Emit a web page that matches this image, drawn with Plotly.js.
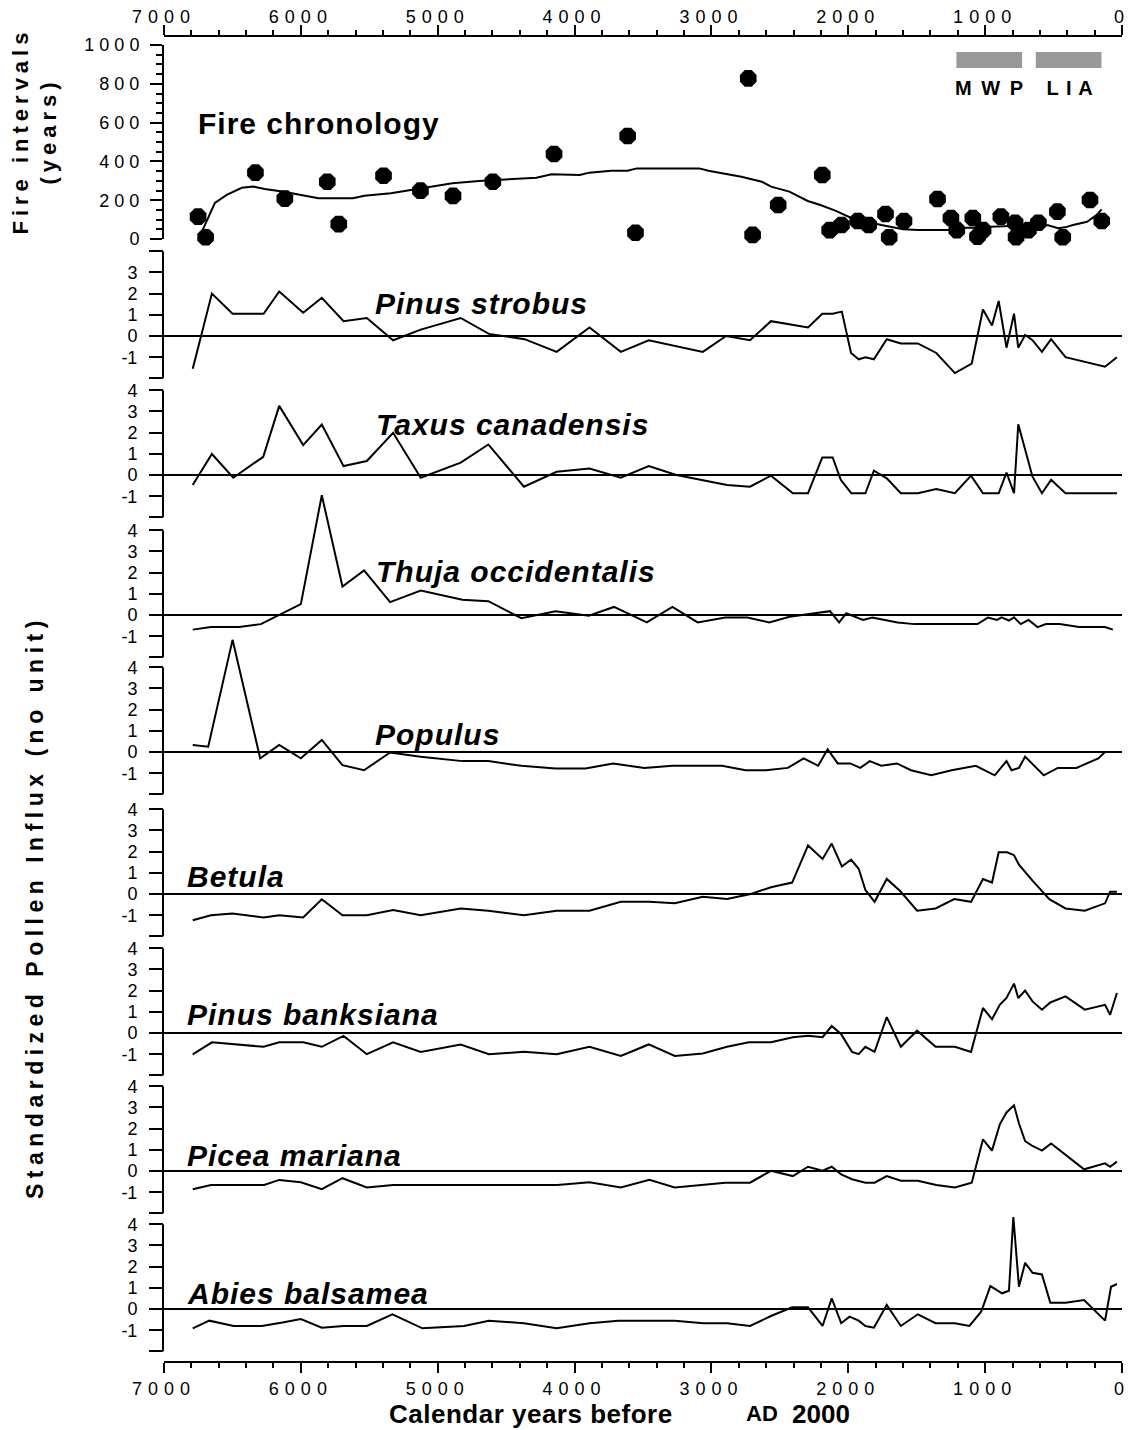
<!DOCTYPE html>
<html><head><meta charset="utf-8">
<script src="https://cdn.plot.ly/plotly-3.0.1.min.js"></script>
<style>html,body{margin:0;padding:0;background:#fff}</style>
</head><body><div id="chart" style="width:1130px;height:1430px"></div>
<script>
// ---------------- DATA ----------------
const yearTicks = [7000, 6000, 5000, 4000, 3000, 2000, 1000, 0];

const fireAge = [6751,6696,6332,6117,5807,5723,5396,5126,4888,4597,4150,3612,3555,2731,2699,2512,2190,2136,2050,1931,1851,1728,1701,1593,1348,1250,1207,1090,1056,1015,885,781,774,684,611,472,433,234,148];
const fireInterval = [115,9,342,208,295,77,326,249,222,295,438,531,32,828,21,175,330,46,72,93,72,129,9,93,206,108,46,108,12,46,115,84,10,46,84,141,9,201,93];

const fireSmoothAge = [6718,6628,6542,6431,6346,6263,6124,6011,5872,5620,5536,5343,5228,5061,4893,4698,4279,4168,3961,3893,3732,3613,3545,3088,3022,2942,2781,2631,2564,2431,2296,2204,2095,1974,1759,1599,1490,1277,1134,1073,964,650,540,467,416,358,255,185,149];
const fireSmoothInterval = [46,186,227,264,270,258,244,230,210,210,223,236,249,270,287,299,316,334,330,342,352,352,364,364,352,342,321,295,270,244,196,175,146,107,72,50,46,46,58,58,63,71,71,55,60,72,89,124,153];

const mwpPeriod = [1210, 730];
const liaPeriod = [630, 150];

const pinusStrobusAge = [6790,6650,6499,6272,6158,5983,5847,5688,5518,5326,5124,4832,4626,4365,4131,3891,3662,3458,3063,2893,2718,2565,2294,2190,2114,2047,1980,1924,1875,1813,1719,1616,1492,1357,1221,1098,1016,950,901,844,789,758,708,654,585,518,413,124,37];
const pinusStrobusValue = [-1.55,2.0,1.05,1.05,2.1,1.1,1.8,0.7,0.85,-0.2,0.3,0.85,0.1,-0.15,-0.75,0.4,-0.75,-0.2,-0.75,0,-0.2,0.7,0.4,1.05,1.05,1.15,-0.8,-1.1,-1.0,-1.1,-0.15,-0.35,-0.35,-0.8,-1.75,-1.3,1.25,0.5,1.65,-0.55,1.05,-0.55,0.05,-0.2,-0.75,-0.15,-1.0,-1.45,-1.0];

const taxusAge = [6790,6650,6494,6275,6158,5983,5847,5688,5518,5326,5124,4832,4630,4370,4131,3891,3662,3458,3256,2886,2718,2565,2405,2294,2190,2114,2055,1978,1875,1813,1719,1616,1492,1357,1221,1103,1016,901,844,789,758,654,585,518,413,37];
const taxusValue = [-0.47,0.99,-0.13,0.86,3.26,1.41,2.38,0.42,0.66,1.99,-0.13,0.58,1.44,-0.55,0.15,0.31,-0.13,0.42,0,-0.47,-0.55,-0.03,-0.86,-0.86,0.83,0.83,-0.23,-0.86,-0.86,0.2,-0.16,-0.86,-0.86,-0.66,-0.86,-0.03,-0.86,-0.86,0.11,-0.86,2.39,-0.08,-0.86,-0.23,-0.86,-0.86];

const thujaAge = [6790,6657,6450,6292,6000,5847,5696,5538,5348,5124,4820,4630,4389,4139,3896,3712,3472,3285,3100,2898,2737,2578,2429,2134,2067,2015,1892,1825,1640,1517,1056,980,913,880,826,789,740,683,617,556,456,314,124,67];
const thujaValue = [-0.69,-0.57,-0.57,-0.43,0.51,5.65,1.34,2.1,0.61,1.15,0.72,0.65,-0.15,0.18,-0.03,0.38,-0.35,0.38,-0.35,-0.12,-0.12,-0.35,-0.08,0.18,-0.35,0.08,-0.23,-0.12,-0.35,-0.43,-0.43,-0.12,-0.23,-0.11,-0.26,-0.11,-0.43,-0.23,-0.57,-0.43,-0.43,-0.57,-0.57,-0.69];

const populusAge = [6790,6677,6499,6297,6158,6000,5847,5696,5538,5348,5124,4820,4630,4389,4139,3920,3718,3490,3285,2923,2750,2602,2442,2326,2220,2151,2077,1986,1912,1843,1759,1645,1542,1394,1245,1068,930,844,807,753,708,572,469,333,173,124,37];
const populusValue = [0.33,0.25,5.29,-0.30,0.33,-0.30,0.57,-0.62,-0.86,-0.02,-0.22,-0.43,-0.43,-0.65,-0.78,-0.78,-0.54,-0.75,-0.65,-0.65,-0.86,-0.86,-0.75,-0.30,-0.65,0.13,-0.54,-0.54,-0.75,-0.43,-0.65,-0.54,-0.86,-1.1,-0.86,-0.65,-1.1,-0.43,-0.86,-0.75,-0.22,-1.1,-0.75,-0.75,-0.30,0,0];

const betulaAge = [6790,6657,6499,6272,6158,5983,5847,5696,5518,5326,5124,4832,4630,4370,4131,3891,3662,3453,3268,3063,2886,2713,2565,2410,2294,2188,2121,2047,1980,1924,1875,1808,1719,1621,1497,1362,1226,1103,1016,950,901,839,789,753,654,531,413,272,124,87,37];
const betulaValue = [-1.24,-1.0,-0.92,-1.11,-1.0,-1.11,-0.25,-1.0,-1.0,-0.76,-1.0,-0.68,-0.79,-1.0,-0.79,-0.79,-0.37,-0.37,-0.44,-0.13,-0.24,0,0.32,0.54,2.29,1.65,2.38,1.3,1.62,1.19,0.19,-0.37,0.71,0.14,-0.79,-0.68,-0.24,-0.37,0.71,0.54,1.97,1.97,1.83,1.38,0.63,-0.24,-0.68,-0.79,-0.44,0.11,0.11];

const pinusBanksianaAge = [6790,6650,6272,6158,5983,5847,5688,5518,5326,5124,4832,4626,4370,4131,3891,3662,3458,3268,3063,2886,2726,2565,2405,2294,2188,2121,2052,1973,1924,1875,1808,1719,1616,1497,1362,1221,1103,1016,950,893,844,789,758,708,654,585,524,413,272,124,87,37];
const pinusBanksianaValue = [-1.01,-0.44,-0.65,-0.44,-0.44,-0.65,-0.14,-1.0,-0.44,-0.89,-0.54,-1.0,-0.89,-1.0,-0.65,-1.08,-0.54,-1.08,-0.97,-0.65,-0.44,-0.44,-0.2,-0.13,-0.2,0.33,-0.06,-0.89,-1.0,-0.65,-0.89,0.75,-0.65,0.11,-0.65,-0.65,-0.89,1.18,0.65,1.33,1.65,2.33,1.65,2.0,1.49,1.1,1.44,1.73,1.1,1.33,0.86,1.89];

const piceaAge = [6790,6657,6268,6158,6000,5847,5696,5518,5326,4126,3891,3662,3453,3268,2898,2718,2565,2405,2294,2188,2121,2052,1973,1875,1808,1719,1616,1492,1357,1221,1098,1016,950,893,844,789,753,708,654,585,518,277,124,87,37];
const piceaValue = [-0.86,-0.66,-0.66,-0.42,-0.53,-0.86,-0.34,-0.78,-0.66,-0.66,-0.53,-0.78,-0.42,-0.78,-0.55,-0.55,0.01,-0.24,0.2,0.01,0.2,-0.16,-0.39,-0.55,-0.55,-0.24,-0.46,-0.46,-0.66,-0.78,-0.55,1.49,0.96,2.2,2.76,3.1,2.24,1.41,1.18,0.96,1.3,0.08,0.36,0.2,0.44];

const abiesAge = [6790,6669,6491,6285,6134,6000,5847,5688,5518,5331,5112,4808,4626,4370,4131,3891,3680,3268,3059,2886,2718,2565,2410,2294,2188,2121,2052,1991,1924,1875,1813,1719,1616,1492,1362,1221,1115,1029,962,876,826,794,753,708,654,585,524,413,277,124,80,37];
const abiesValue = [-0.91,-0.55,-0.8,-0.8,-0.64,-0.47,-0.88,-0.8,-0.8,-0.25,-0.91,-0.8,-0.55,-0.67,-0.91,-0.67,-0.55,-0.55,-0.67,-0.67,-0.8,-0.33,0.08,0.08,-0.8,0.5,-0.67,-0.36,-0.55,-0.8,-0.88,0.19,-0.8,-0.25,-0.67,-0.67,-0.8,-0.13,1.08,0.74,0.86,4.34,1.05,2.18,1.71,1.63,0.3,0.3,0.42,-0.55,1.05,1.18];

const speciesNames = ['Pinus strobus','Taxus canadensis','Thuja occidentalis','Populus','Betula','Pinus banksiana','Picea mariana','Abies balsamea'];
const speciesAges = [pinusStrobusAge, taxusAge, thujaAge, populusAge, betulaAge, pinusBanksianaAge, piceaAge, abiesAge];
const speciesValues = [pinusStrobusValue, taxusValue, thujaValue, populusValue, betulaValue, pinusBanksianaValue, piceaValue, abiesValue];
const pollenTickVals = [-2,-1,0,1,2,3,4];

// ---------------- LAYOUT ----------------
const W = 1130, H = 1430;
const px = v => v / W;
const py = v => 1 - v / H;
const X0 = 164, X1 = 1122;
const FONT = 'Liberation Sans, Arial, Helvetica, sans-serif';
const U = 21.2;
const zeroPx = [336, 475, 615, 752, 894, 1033, 1171, 1309];
const labelPos = [[373,304],[374,424],[374,571],[373,734],[185,876],[185,1014],[185,1155],[185,1293]];

const minorX = {tick0:0, dtick:200, ticks:'outside', ticklen:5, tickwidth:2, tickcolor:'#000', showgrid:false};
const baseX = {
  domain:[px(X0), px(X1)], range:[7000,0], anchor:'free',
  showline:true, linecolor:'#000', linewidth:2,
  ticks:'outside', ticklen:10, tickwidth:2, tickcolor:'#000',
  tickmode:'array', tickvals:yearTicks, ticktext:yearTicks.map(String),
  minor:minorX, showgrid:false, zeroline:false,
  tickfont:{size:18, family:FONT, color:'#000'}
};

const layout = {
  width:W, height:H, autosize:false,
  margin:{l:0,r:0,t:0,b:0},
  paper_bgcolor:'#fff', plot_bgcolor:'rgba(0,0,0,0)',
  showlegend:false, hovermode:false,
  font:{family:FONT, color:'#000'},
  xaxis: Object.assign({}, baseX, {position: py(1362), side:'bottom'}),
  xaxis2: Object.assign({}, baseX, {position: py(36), side:'top', ticklabelstandoff:-5}),
  yaxis: {
    domain:[py(239), py(45)], range:[0,1000], anchor:'x2',
    showline:true, linecolor:'#000', linewidth:2,
    ticks:'outside', ticklen:12, tickwidth:2, tickcolor:'#000',
    tickmode:'linear', tick0:0, dtick:200,
    minor:{tick0:0, dtick:50, ticks:'outside', ticklen:6, tickwidth:2, tickcolor:'#000', showgrid:false},
    showgrid:false, zeroline:false, ticklabelstandoff:2,
    tickfont:{size:18, family:FONT, color:'#000'}
  },
  shapes:[], annotations:[]
};

const traces = [];
// fire
traces.push({type:'scatter', mode:'lines', x:fireSmoothAge, y:fireSmoothInterval, xaxis:'x2', yaxis:'y',
  line:{color:'#000', width:2}});
traces.push({type:'scatter', mode:'markers', x:fireAge, y:fireInterval, xaxis:'x2', yaxis:'y', cliponaxis:false,
  marker:{symbol:'octagon', size:18, color:'#000', line:{width:0}}});

speciesNames.forEach((name, i) => {
  const k = i + 2;
  const Z = zeroPx[i];
  layout['yaxis' + k] = {
    domain:[py(Z + 2*U), py(Z - 6*U)], range:[-2,6], anchor:'x',
    showline:false, ticks:'outside', ticklen:14, tickwidth:2, tickcolor:'#000',
    tickmode:'array', tickvals:pollenTickVals,
    ticktext:pollenTickVals.map(v => (v === -2 || (i === 0 && v === 4)) ? '' : String(v)),
    showgrid:false, zeroline:true, zerolinecolor:'#000', zerolinewidth:2,
    ticklabelstandoff:8,
    tickfont:{size:18, family:FONT, color:'#000'}
  };
  layout.shapes.push({type:'line', xref:'paper', yref:'y' + k, x0:px(X0-1), x1:px(X0-1), y0:-2, y1:4,
    line:{color:'#000', width:2}});
  traces.push({type:'scatter', mode:'lines', x:speciesAges[i], y:speciesValues[i], xaxis:'x', yaxis:'y' + k,
    line:{color:'#000', width:2}});
});

// MWP / LIA bars
[mwpPeriod, liaPeriod].forEach(p => layout.shapes.push({type:'rect', xref:'x2', yref:'paper',
  x0:p[0], x1:p[1], y0:py(68), y1:py(52), fillcolor:'#999999', line:{width:0}}));

const annSpacing = [];
function ann(text, x, y, opts, ls) {
  layout.annotations.push(Object.assign({text:text, x:px(x), y:py(y), xref:'paper', yref:'paper',
    showarrow:false, xanchor:'left', yanchor:'middle', align:'left'}, opts));
  annSpacing.push(ls || 0);
}
ann('Fire intervals<br>(years)', 34.5, 131, {xanchor:'center', align:'center', textangle:-90,
  font:{size:22, family:FONT, weight:'bold', color:'#000'}}, 5);
ann('Standardized Pollen Influx (no unit)', 35, 907, {xanchor:'center', align:'center', textangle:-90,
  font:{size:23, family:FONT, weight:'bold', color:'#000'}}, 5.5);
ann('Fire chronology', 196, 123, {font:{size:30, family:FONT, weight:'bold', color:'#000'}}, 1);
speciesNames.forEach((name, i) => ann(name, labelPos[i][0], labelPos[i][1],
  {font:{size:30, family:FONT, weight:'bold', style:'italic', color:'#000'}}, 1));
ann('M W P', 990, 88, {xanchor:'center', align:'center', font:{size:20, family:FONT, weight:'bold', color:'#000'}}, 2);
ann('L I A', 1070, 88, {xanchor:'center', align:'center', font:{size:20, family:FONT, weight:'bold', color:'#000'}}, 1);
ann('Calendar years before', 387, 1414, {font:{size:26, family:FONT, weight:'bold', color:'#000'}}, 0.5);
ann('AD', 744, 1413, {font:{size:22, family:FONT, weight:'bold', color:'#000'}}, 0);
ann('2000', 790, 1414, {font:{size:26, family:FONT, weight:'bold', color:'#000'}}, 0);

Plotly.newPlot('chart', traces, layout, {staticPlot:true, displayModeBar:false}).then(gd => {
  gd.querySelectorAll('.xtick text, .x2tick text').forEach(t => t.style.letterSpacing = '6px');
  gd.querySelectorAll('.ytick text').forEach(t => t.style.letterSpacing = '5px');
  gd.querySelectorAll('.annotation').forEach((a, i) => {
    const ls = annSpacing[i];
    if (ls) a.querySelectorAll('text').forEach(t => t.style.letterSpacing = ls + 'px');
  });
});
</script></body></html>
